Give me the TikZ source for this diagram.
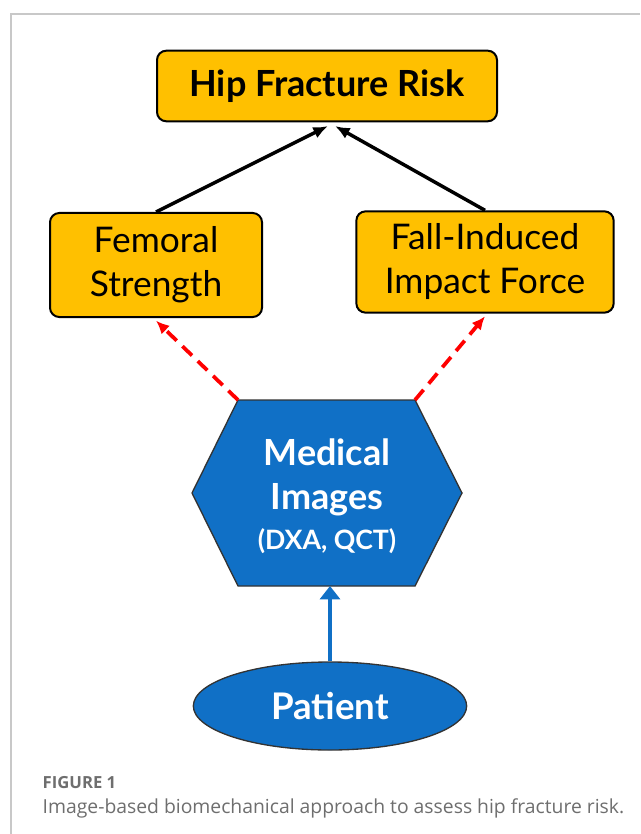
\documentclass[tikz,border=0pt]{standalone}
\usepackage{fontspec}
\setmainfont{Lato}
\newfontfamily\capfont{Open Sans}
\usepackage{tikz}
\usetikzlibrary{arrows.meta}
\usetikzlibrary{shapes.geometric}
\definecolor{boxgold}{RGB}{255,192,0}
\definecolor{medblue}{RGB}{16,112,198}
\definecolor{capgray}{RGB}{110,110,110}
\definecolor{framegray}{RGB}{200,200,200}
\tikzset{
goldbox/.style={shape=rectangle, rounded corners=7pt, draw=black, line width=1.5pt, fill=boxgold, align=center, font=\fontsize{26.5}{33}\selectfont},
upline/.style={draw=black, line width=2.6pt, -{Latex[length=11pt,width=9pt]}},
redline/.style={draw=red, line width=2.8pt, dash pattern=on 10pt off 6pt, -{Latex[length=10pt,width=9pt]}},
blueline/.style={draw=medblue, line width=2.4pt, -{Triangle[length=10pt,width=15pt]}}}

\begin{document}
\begin{tikzpicture}[x=0.75pt,y=-0.75pt]
    \useasboundingbox (0,0) rectangle (640,834);
    \draw[framegray, line width=0.8pt] (11,834) -- (11,14) -- (640,14);

                \node[goldbox, minimum width=255pt, minimum height=53pt, font=\fontsize{27}{33}\selectfont\bfseries] (risk) at (327,86) {Hip Fracture Risk};
                \node[goldbox, minimum width=159pt, minimum height=78pt] (fem) at (156,265) {Femoral\\Strength};
                \node[goldbox, minimum width=193pt, minimum height=76pt] (fall) at (485,262) {Fall-Induced\\Impact Force};

                \coordinate (h1) at (238,400);
                \coordinate (h2) at (415,400);
                \coordinate (h3) at (462,493);
                \coordinate (h4) at (415,586);
                \coordinate (h5) at (238,586);
                \coordinate (h6) at (192,493);
                \fill[medblue, draw=black!80, line width=1pt] (h1) -- (h2) -- (h3) -- (h4) -- (h5) -- (h6) -- cycle;
                \node[text=white, align=center, font=\fontsize{27}{33}\selectfont\bfseries] (med) at (327,496) {Medical\\Images\\[-3pt]{\fontsize{20}{22}\selectfont (DXA, QCT)}};

                \node[shape=ellipse, draw=black!80, line width=1pt, fill=medblue, text=white, minimum width=205pt, minimum height=66pt, inner sep=0pt, font=\fontsize{27.5}{30}\selectfont\bfseries] (pat) at (330,706) {Patient};

                \coordinate (tipL) at (328,126);
                \coordinate (tipR) at (335,126);
                \draw[upline] (fem.north) -- (tipL);
                \draw[upline] (fall.north) -- (tipR);
                \draw[redline] (h1) -- ([yshift=-2pt]fem.south);
                \draw[redline] (h2) -- ([yshift=-2pt]fall.south);
                \draw[blueline] (pat.north) -- (h4 -| pat.north);

                \node[anchor=west, text=capgray, font=\capfont\fontsize{12.5}{14}\selectfont\bfseries] (fig) at (38,783) {FIGURE 1};
                \node[anchor=west, text=capgray, font=\capfont\fontsize{14.5}{17}\selectfont] (cap) at (38,808) {Image-based biomechanical approach to assess hip fracture risk.};

            \end{tikzpicture}
\end{document}
